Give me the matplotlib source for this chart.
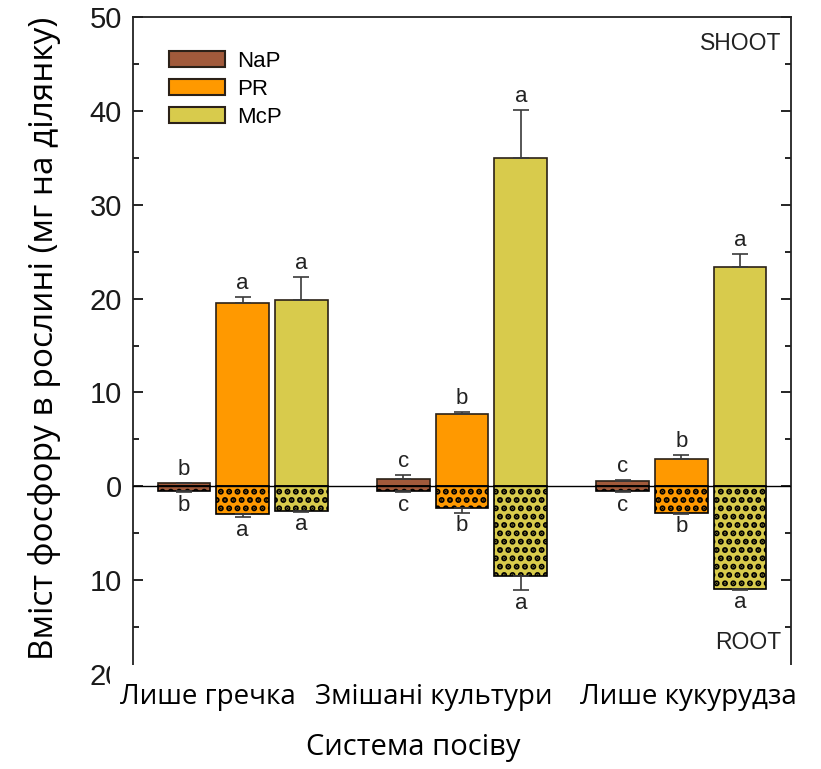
import matplotlib
matplotlib.use('Agg')
import matplotlib.pyplot as plt
from matplotlib.patches import Rectangle
from matplotlib.ticker import MultipleLocator, FuncFormatter
import numpy as np

plt.rcParams['hatch.linewidth'] = 3.0

groups = ['Лише гречка', 'Змішані культури', 'Лише кукурудза']
sources = ['NaP', 'PR', 'McP']

# shoot (above zero) and root (below zero) P content, mg per plot
shoot = {
    'NaP': [0.3, 0.8, 0.6],
    'PR': [19.5, 7.7, 2.9],
    'McP': [19.8, 35.0, 23.4],
}
shoot_err = {
    'NaP': [0.1, 0.4, 0.1],
    'PR': [0.7, 0.2, 0.4],
    'McP': [2.5, 5.1, 1.4],
}
root = {
    'NaP': [-0.5, -0.5, -0.5],
    'PR': [-2.9, -2.3, -2.8],
    'McP': [-2.6, -9.6, -10.9],
}
root_err = {
    'NaP': [0.1, 0.1, 0.1],
    'PR': [0.4, 0.5, 0.1],
    'McP': [0.1, 1.5, 0.1],
}
shoot_letters = {
    'NaP': ['b', 'c', 'c'],
    'PR': ['a', 'b', 'b'],
    'McP': ['a', 'a', 'a'],
}
root_letters = {
    'NaP': ['b', 'c', 'c'],
    'PR': ['a', 'b', 'b'],
    'McP': ['a', 'a', 'a'],
}

colors = {'NaP': '#A15A3B', 'PR': '#FF9900', 'McP': '#D8CB4C'}
EDGE = '#2b2118'

fig = plt.figure(figsize=(8.21, 7.69), dpi=100)
ax = fig.add_axes([133 / 821, 1 - 674 / 769, 658 / 821, 657 / 769])

x = np.arange(len(groups))
width = 0.24
step = 0.268

for i, s in enumerate(sources):
    xs = x + (i - 1) * step
    ax.bar(xs, shoot[s], width, color=colors[s], edgecolor=EDGE, linewidth=1.2, zorder=2)
    ax.errorbar(xs, shoot[s], yerr=[np.zeros(3), shoot_err[s]], fmt='none',
                ecolor='#3a3a3a', elinewidth=1.2, capsize=6, capthick=1.2, zorder=3)
    ax.bar(xs, root[s], width, color=colors[s], edgecolor='black', linewidth=1.2,
           hatch='..', zorder=2)
    ax.errorbar(xs, root[s], yerr=[root_err[s], np.zeros(3)], fmt='none',
                ecolor='#3a3a3a', elinewidth=1.2, capsize=6, capthick=1.2, zorder=3)
    for j in range(3):
        ax.text(xs[j], shoot[s][j] + shoot_err[s][j] + 0.3, shoot_letters[s][j],
                ha='center', va='bottom', fontsize=16, family='Liberation Sans', color='#222222')
        ax.text(xs[j], root[s][j] - root_err[s][j] - 0.3, root_letters[s][j],
                ha='center', va='top', fontsize=16, family='Liberation Sans', color='#222222')

ax.axhline(0, color='black', lw=1.0, zorder=4)

ax.set_xlim(-0.5, 2.5)
ax.set_ylim(-20, 50)
ax.yaxis.set_major_locator(MultipleLocator(10))
ax.yaxis.set_minor_locator(MultipleLocator(5))
ax.yaxis.set_major_formatter(FuncFormatter(lambda v, p: f'{abs(v):g}'))
ax.tick_params(axis='y', which='both', direction='in', left=True, right=True,
               labelsize=21, pad=8, width=1.2, labelcolor='#1a1a1a')
ax.tick_params(axis='y', which='major', length=7)
ax.tick_params(axis='y', which='minor', length=4)
for lab in ax.get_yticklabels():
    lab.set_family('Liberation Sans')
ax.set_xticks([])

for sp in ax.spines.values():
    sp.set_linewidth(1.3)
    sp.set_color('#222222')

ax.text(0.985, 0.977, 'SHOOT', transform=ax.transAxes, ha='right', va='top',
        fontsize=16.5, family='Liberation Sans', color='#222222')
ax.text(0.985, 0.03, 'ROOT', transform=ax.transAxes, ha='right', va='bottom',
        fontsize=16.5, family='Liberation Sans', color='#222222')

handles = [Rectangle((0, 0), 1, 1, facecolor=colors[s], edgecolor=EDGE, linewidth=1.5)
           for s in sources]
ax.legend(handles, sources, loc='upper left', bbox_to_anchor=(0.035, 0.969), frameon=False,
          prop={'family': 'Liberation Sans', 'size': 16}, handlelength=2.5,
          handleheight=0.75, labelspacing=0.32, handletextpad=0.55, borderaxespad=0.2)

# white strip that hides the bottom of the original frame
fig.add_artist(Rectangle((110 / 821, 0), 1, 104 / 769, transform=fig.transFigure,
                         facecolor='white', edgecolor='none', zorder=1))

group_px = [208, 434, 688]
for g, px in zip(groups, group_px):
    fig.text(px / 821, 1 - 697 / 769, g, ha='center', va='center',
             fontsize=20, family='Open Sans', zorder=3)

fig.text(413 / 821, 1 - 748 / 769, 'Система посіву', ha='center', va='center',
         fontsize=21, family='Open Sans', zorder=3)
fig.text(45 / 821, 1 - 338 / 769, 'Вміст фосфору в рослині (мг на ділянку)',
         ha='center', va='center', rotation=90, fontsize=24, family='Open Sans')

fig.savefig('out.png', dpi=100, facecolor='white')
